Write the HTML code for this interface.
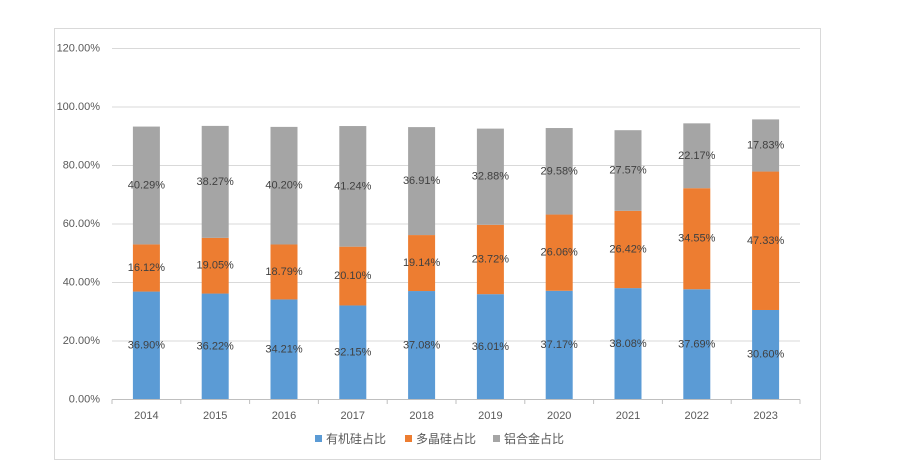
<!DOCTYPE html>
<html><head><meta charset="utf-8"><style>
html,body{margin:0;padding:0;background:#fff;}
svg{display:block;font-family:"Liberation Sans","Noto Sans CJK SC",sans-serif;}
</style></head><body>
<svg width="900" height="469" viewBox="0 0 900 469">
<rect x="54.5" y="28.5" width="766" height="431" fill="#fff" stroke="#d9d9d9"/>
<g stroke="#d9d9d9" stroke-width="1">
<line x1="112" x2="800" y1="48.5" y2="48.5"/>
<line x1="112" x2="800" y1="107" y2="107"/>
<line x1="112" x2="800" y1="165.5" y2="165.5"/>
<line x1="112" x2="800" y1="224" y2="224"/>
<line x1="112" x2="800" y1="282.5" y2="282.5"/>
<line x1="112" x2="800" y1="341" y2="341"/>
<line x1="112" x2="800" y1="399.5" y2="399.5"/>
</g>
<g fill="#595959" font-size="11" text-anchor="end" dominant-baseline="central">
<text x="100" y="48.5">120.00%</text><text x="100" y="107">100.00%</text><text x="100" y="165.5">80.00%</text><text x="100" y="224">60.00%</text><text x="100" y="282.5">40.00%</text><text x="100" y="341">20.00%</text><text x="100" y="399.5">0.00%</text>
</g>
<g>
<rect x="132.9" y="291.57" width="27" height="107.93" fill="#5b9bd5"/><rect x="132.9" y="244.42" width="27" height="47.15" fill="#ed7d31"/><rect x="132.9" y="126.57" width="27" height="117.85" fill="#a5a5a5"/>
<rect x="201.7" y="293.56" width="27" height="105.94" fill="#5b9bd5"/><rect x="201.7" y="237.84" width="27" height="55.72" fill="#ed7d31"/><rect x="201.7" y="125.9" width="27" height="111.94" fill="#a5a5a5"/>
<rect x="270.5" y="299.44" width="27" height="100.06" fill="#5b9bd5"/><rect x="270.5" y="244.48" width="27" height="54.96" fill="#ed7d31"/><rect x="270.5" y="126.89" width="27" height="117.59" fill="#a5a5a5"/>
<rect x="339.3" y="305.46" width="27" height="94.04" fill="#5b9bd5"/><rect x="339.3" y="246.67" width="27" height="58.79" fill="#ed7d31"/><rect x="339.3" y="126.04" width="27" height="120.63" fill="#a5a5a5"/>
<rect x="408.1" y="291.04" width="27" height="108.46" fill="#5b9bd5"/><rect x="408.1" y="235.06" width="27" height="55.98" fill="#ed7d31"/><rect x="408.1" y="127.1" width="27" height="107.96" fill="#a5a5a5"/>
<rect x="476.9" y="294.17" width="27" height="105.33" fill="#5b9bd5"/><rect x="476.9" y="224.79" width="27" height="69.38" fill="#ed7d31"/><rect x="476.9" y="128.62" width="27" height="96.17" fill="#a5a5a5"/>
<rect x="545.7" y="290.78" width="27" height="108.72" fill="#5b9bd5"/><rect x="545.7" y="214.55" width="27" height="76.23" fill="#ed7d31"/><rect x="545.7" y="128.03" width="27" height="86.52" fill="#a5a5a5"/>
<rect x="614.5" y="288.12" width="27" height="111.38" fill="#5b9bd5"/><rect x="614.5" y="210.84" width="27" height="77.28" fill="#ed7d31"/><rect x="614.5" y="130.2" width="27" height="80.64" fill="#a5a5a5"/>
<rect x="683.3" y="289.26" width="27" height="110.24" fill="#5b9bd5"/><rect x="683.3" y="188.2" width="27" height="101.06" fill="#ed7d31"/><rect x="683.3" y="123.35" width="27" height="64.85" fill="#a5a5a5"/>
<rect x="752.1" y="309.99" width="27" height="89.51" fill="#5b9bd5"/><rect x="752.1" y="171.55" width="27" height="138.44" fill="#ed7d31"/><rect x="752.1" y="119.4" width="27" height="52.15" fill="#a5a5a5"/>
</g>
<g stroke="#bfbfbf"><line x1="112" x2="800" y1="399.5" y2="399.5"/>
<line x1="112" x2="112" y1="399.5" y2="404"/><line x1="180.8" x2="180.8" y1="399.5" y2="404"/><line x1="249.6" x2="249.6" y1="399.5" y2="404"/><line x1="318.4" x2="318.4" y1="399.5" y2="404"/><line x1="387.2" x2="387.2" y1="399.5" y2="404"/><line x1="456" x2="456" y1="399.5" y2="404"/><line x1="524.8" x2="524.8" y1="399.5" y2="404"/><line x1="593.6" x2="593.6" y1="399.5" y2="404"/><line x1="662.4" x2="662.4" y1="399.5" y2="404"/><line x1="731.2" x2="731.2" y1="399.5" y2="404"/><line x1="800" x2="800" y1="399.5" y2="404"/></g>
<g fill="#404040" font-size="11" text-anchor="middle" dominant-baseline="central">
<text x="146.4" y="345.5">36.90%</text><text x="146.4" y="268">16.12%</text><text x="146.4" y="185.5">40.29%</text>
<text x="215.2" y="346.5">36.22%</text><text x="215.2" y="265.7">19.05%</text><text x="215.2" y="181.9">38.27%</text>
<text x="284" y="349.5">34.21%</text><text x="284" y="272">18.79%</text><text x="284" y="185.7">40.20%</text>
<text x="352.8" y="352.5">32.15%</text><text x="352.8" y="276">20.10%</text><text x="352.8" y="186.4">41.24%</text>
<text x="421.6" y="345.3">37.08%</text><text x="421.6" y="263">19.14%</text><text x="421.6" y="181">36.91%</text>
<text x="490.4" y="346.8">36.01%</text><text x="490.4" y="259.5">23.72%</text><text x="490.4" y="176.7">32.88%</text>
<text x="559.2" y="345.1">37.17%</text><text x="559.2" y="252.7">26.06%</text><text x="559.2" y="171.3">29.58%</text>
<text x="628" y="343.8">38.08%</text><text x="628" y="249.5">26.42%</text><text x="628" y="170.5">27.57%</text>
<text x="696.8" y="344.4">37.69%</text><text x="696.8" y="238.7">34.55%</text><text x="696.8" y="155.8">22.17%</text>
<text x="765.6" y="354.7">30.60%</text><text x="765.6" y="240.8">47.33%</text><text x="765.6" y="145.5">17.83%</text>
</g>
<g fill="#595959" font-size="11" text-anchor="middle" dominant-baseline="central">
<text x="146.4" y="416">2014</text><text x="215.2" y="416">2015</text><text x="284" y="416">2016</text><text x="352.8" y="416">2017</text><text x="421.6" y="416">2018</text><text x="490.4" y="416">2019</text><text x="559.2" y="416">2020</text><text x="628" y="416">2021</text><text x="696.8" y="416">2022</text><text x="765.6" y="416">2023</text>
</g>
<g font-size="12" fill="#595959" dominant-baseline="central">
<rect x="315" y="435" width="7" height="7" fill="#5b9bd5"/><text x="326" y="439">有机硅占比</text>
<rect x="405" y="435" width="7" height="7" fill="#ed7d31"/><text x="416" y="439">多晶硅占比</text>
<rect x="493" y="435" width="7" height="7" fill="#a5a5a5"/><text x="504" y="439">铝合金占比</text>
</g>
</svg>
</body></html>
